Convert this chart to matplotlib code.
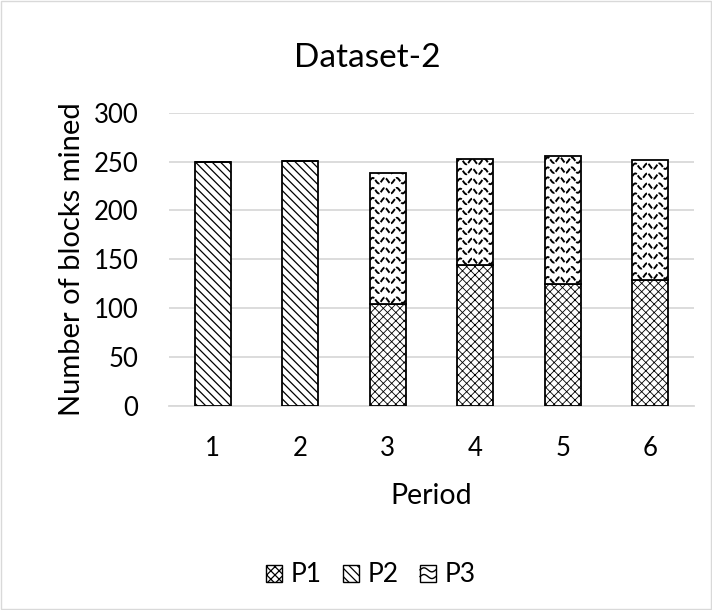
import numpy as np
import matplotlib
matplotlib.use("Agg")
import matplotlib.pyplot as plt
from matplotlib.patches import Rectangle, Patch
from matplotlib.legend_handler import HandlerBase
from matplotlib.lines import Line2D

periods = ["1", "2", "3", "4", "5", "6"]
p1 = [0, 0, 104, 144, 125, 129]
p2 = [250, 251, 0, 0, 0, 0]
p3 = [0, 0, 134, 109, 131, 123]
yticks = [0, 50, 100, 150, 200, 250, 300]

plt.rcParams['font.family'] = ['Lato', 'DejaVu Sans']
plt.rcParams['hatch.linewidth'] = 0.9

fig = plt.figure(figsize=(7.12, 6.1), dpi=100)
ax = fig.add_axes([169 / 712, 1 - 405.7 / 610, 525 / 712, 293 / 610])
fig.patches.append(Rectangle((0.001, 0.001), 0.997, 0.997, transform=fig.transFigure,
                             fill=False, edgecolor='#d9d9d9', lw=1))

x = np.arange(len(periods))
w = 0.41
H1 = 'xxxx'
H2 = '\\\\\\\\'
b1 = ax.bar(x, p1, w, color='white', edgecolor='black', hatch=H1, lw=1.3, zorder=3)
b2 = ax.bar(x, p2, w, bottom=p1, color='white', edgecolor='black', hatch=H2, lw=1.3, zorder=3)
bot3 = [a + b for a, b in zip(p1, p2)]
b3 = ax.bar(x, p3, w, bottom=bot3, color='white', edgecolor='black', lw=1.3, zorder=3)

for rect in b1:
    try:
        rect.set_hatch_linewidth(0.6)
    except Exception:
        pass

# wavy pattern for P3
for rect in b3:
    if rect.get_height() <= 0:
        continue
    x0 = rect.get_x(); x1 = x0 + rect.get_width()
    y0 = rect.get_y(); y1 = y0 + rect.get_height()
    xs = np.linspace(x0, x1, 80)
    for yy in np.arange(y0 + 4, y1 + 10, 10.2):
        ys = yy + 2.8 * np.sin((xs - x0) / 0.137 * 2 * np.pi)
        ln, = ax.plot(xs, ys, color='black', lw=1.4, zorder=4, dashes=(3.0, 0.8))
        ln.set_clip_path(rect)

ax.set_ylim(0, 300)
ax.set_xlim(-0.5, len(periods) - 0.5)
ax.set_yticks(yticks)
ax.set_xticks(x)
ax.set_xticklabels(periods)
ax.tick_params(axis='y', length=0, labelsize=18.5, pad=22)
ax.tick_params(axis='x', length=0, labelsize=18.5, pad=22)
ax.yaxis.grid(True, color='#d9d9d9', lw=1.3, zorder=0)
for s in ['top', 'right', 'left']:
    ax.spines[s].set_visible(False)
ax.spines['bottom'].set_color('#d9d9d9')
ax.spines['bottom'].set_linewidth(1.3)
ax.set_ylabel('Number of blocks mined', fontsize=21, labelpad=6)
ax.set_xlabel('Period', fontsize=20.5, labelpad=16)
fig.text(367 / 712, 1 - 67 / 610, 'Dataset-2', fontsize=24, ha='center', va='baseline')


class WaveHandler(HandlerBase):
    def create_artists(self, legend, orig_handle, xdescent, ydescent, width, height, fontsize, trans):
        r = Rectangle((-xdescent, -ydescent), width, height, facecolor='white',
                      edgecolor='black', lw=1.0, transform=trans)
        arts = [r]
        xs = np.linspace(-xdescent, -xdescent + width, 30)
        for frac in (0.3, 0.7):
            ys = -ydescent + frac * height + 0.12 * height * np.sin((xs + xdescent) / width * 2 * np.pi)
            arts.append(Line2D(xs, ys, color='black', lw=1.0, transform=trans))
        return arts


handles = [Patch(facecolor='white', edgecolor='black', hatch=H1, label='P1'),
           Patch(facecolor='white', edgecolor='black', hatch=H2, label='P2'),
           Patch(facecolor='white', edgecolor='black', label='P3')]
fig.legend(handles=handles, loc='center', bbox_to_anchor=(371 / 712, 1 - 575 / 610), ncol=3,
           frameon=False, fontsize=19, handlelength=0.6, handleheight=0.6,
           handletextpad=0.34, columnspacing=0.8,
           handler_map={handles[2]: WaveHandler()})

fig.savefig('out.png', dpi=100)
